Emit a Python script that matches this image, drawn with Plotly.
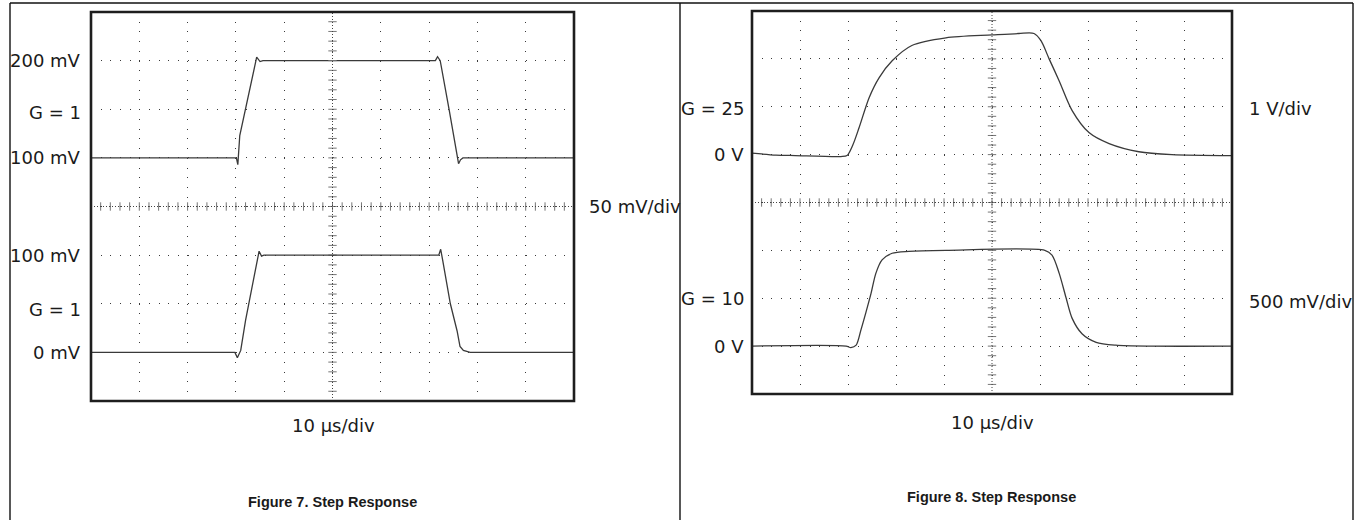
import numpy as np
import plotly.graph_objects as go

W, H = 1359, 520

# ---------------- data (time in µs, amplitude in channel units) ----------------
# Figure 7, upper channel (mV)
LT_t = [0, 30.1, 30.4, 30.8, 34.3, 35.0, 35.6, 71.3, 71.75, 72.3, 74.2, 76.1, 76.5, 77.0, 100]
LT_v = [100, 100, 93, 123, 203.5, 199, 200, 200, 204, 200, 148, 94, 98, 100, 100]
# Figure 7, lower channel (mV)
LB_t = [0, 29.8, 30.3, 31.0, 32.0, 34.8, 35.3, 35.8, 72.0, 72.4, 72.8, 74.4, 75.8, 76.4, 77.1, 78.5, 100]
LB_v = [0, 0, -5.5, 2, 33, 104, 99, 100, 100, 106, 95, 50, 22, 6, 2, 0, 0]
# Figure 8, upper channel (V)
RT_t = [0, 5, 9, 18.5, 19.8, 21.0, 22.3, 24.4, 26.5, 29.2, 33.3, 40.4, 50, 55.6, 58.75,
        60.2, 61.9, 64.0, 66.7, 70.2, 74.4, 80.6, 87.5, 100]
RT_v = [0.03, -0.01, -0.02, -0.04, -0.02, 0.2, 0.56, 1.19, 1.61, 1.96, 2.28, 2.44, 2.5, 2.53, 2.53,
        2.38, 2.0, 1.54, 0.92, 0.46, 0.23, 0.06, 0.0, -0.02]
# Figure 8, lower channel (V)
RB_t = [0, 19.6, 20.6, 21.7, 22.7, 23.75, 24.8, 25.8, 27.1, 29.2, 32.7, 40.4, 61.0, 62.5, 64.0,
        65.4, 66.7, 68.75, 71.7, 75.8, 83.3, 100]
RB_v = [0, 0, -0.015, 0.01, 0.17, 0.355, 0.55, 0.76, 0.9, 0.97, 0.99, 1.0, 1.0, 0.95, 0.76,
        0.51, 0.29, 0.13, 0.04, 0.01, 0, 0]

# labels
L_LEFT_LABELS = ["200 mV", "G = 1", "100 mV", "100 mV", "G = 1", "0 mV"]
L_LEFT_VALUES = [200, 147, 100, 100, 44, 0]
L_LEFT_AXES = ["y", "y", "y", "y2", "y2", "y2"]
R_LEFT_LABELS = ["G = 25", "0 V", "G = 10", "0 V"]
R_LEFT_VALUES = [0.97, 0, 0.5, 0]
R_LEFT_AXES = ["y3", "y3", "y4", "y4"]
SCALE_LABELS = ["50 mV/div", "1 V/div", "500 mV/div"]
TIME_LABEL = "10 µs/div"
CAPTIONS = ["Figure 7. Step Response", "Figure 8. Step Response"]

# ---------------- helpers ----------------
def px(x):
    return x / W

def py(y):
    return 1 - y / H

FONT = "DejaVu Sans, Liberation Sans, Arial, sans-serif"
CAPFONT = "Liberation Sans, Arial, Helvetica, sans-serif"
TXT = "#1a1a1a"
GRIDC = "#3a3a3a"
TRACEC = "#3a3a3a"

L_X = [91, 574]; L_Y = [12, 401]
R_X = [752, 1232]; R_Y = [11, 394]


def griddash(pix_per_div):
    gap = pix_per_div / 5 - 1
    try:
        go.layout.XAxis(griddash=f"1px,{gap:.2f}px")
        return f"1px,{gap:.2f}px"
    except Exception:
        return f"1px,{int(round(gap))}px"


fig = go.Figure()

# ---- traces
line_l = dict(color=TRACEC, width=1.3)
line_r = dict(color=TRACEC, width=1.3, shape="spline", smoothing=0.8)
fig.add_trace(go.Scatter(x=LT_t, y=LT_v, mode="lines", line=line_l, xaxis="x", yaxis="y"))
fig.add_trace(go.Scatter(x=LB_t, y=LB_v, mode="lines", line=line_l, xaxis="x", yaxis="y2"))
fig.add_trace(go.Scatter(x=RT_t, y=RT_v, mode="lines", line=line_r, xaxis="x2", yaxis="y3"))
fig.add_trace(go.Scatter(x=RB_t, y=RB_v, mode="lines", line=line_r, xaxis="x2", yaxis="y4"))

# ---- crosshair minor ticks (every 0.2 division)
tick_t = np.arange(0, 100.001, 2)
tickm = dict(color="#777", size=6, line=dict(color="#777", width=1))
fig.add_trace(go.Scatter(x=tick_t, y=[50] * len(tick_t), mode="markers", xaxis="x", yaxis="y",
                         marker=dict(symbol="line-ns", **tickm)))
lv = np.arange(-150, 250.001, 10)
fig.add_trace(go.Scatter(x=[50] * len(lv), y=lv, mode="markers", xaxis="x", yaxis="y",
                         marker=dict(symbol="line-ew", **tickm)))
fig.add_trace(go.Scatter(x=tick_t, y=[-1] * len(tick_t), mode="markers", xaxis="x2", yaxis="y3",
                         marker=dict(symbol="line-ns", **tickm)))
rv = np.arange(-5, 3.001, 0.2)
fig.add_trace(go.Scatter(x=[50] * len(rv), y=rv, mode="markers", xaxis="x2", yaxis="y3",
                         marker=dict(symbol="line-ew", **tickm)))

common = dict(showticklabels=False, ticks="", zeroline=False, showline=False, fixedrange=True)

lxdiv = (L_X[1] - L_X[0]) / 10
lydiv = (L_Y[1] - L_Y[0]) / 8
rxdiv = (R_X[1] - R_X[0]) / 10
rydiv = (R_Y[1] - R_Y[0]) / 8

fig.update_layout(
    width=W, height=H,
    margin=dict(l=0, r=0, t=0, b=0),
    paper_bgcolor="white", plot_bgcolor="white",
    showlegend=False, hovermode=False,
    xaxis=dict(domain=[px(L_X[0]), px(L_X[1])], range=[0, 100], anchor="y",
               tickvals=list(range(0, 101, 10)), showgrid=True, gridcolor=GRIDC, gridwidth=1,
               griddash=griddash(lydiv), **common),
    yaxis=dict(domain=[py(L_Y[1]), py(L_Y[0])], range=[-150, 250], anchor="x",
               tickvals=list(range(-150, 251, 50)), showgrid=True, gridcolor=GRIDC, gridwidth=1,
               griddash=griddash(lxdiv), **common),
    yaxis2=dict(overlaying="y", range=[-50, 350], anchor="x", showgrid=False, **common),
    xaxis2=dict(domain=[px(R_X[0]), px(R_X[1])], range=[0, 100], anchor="y3",
                tickvals=list(range(0, 101, 10)), showgrid=True, gridcolor=GRIDC, gridwidth=1,
                griddash=griddash(rydiv), **common),
    yaxis3=dict(domain=[py(R_Y[1]), py(R_Y[0])], range=[-5, 3], anchor="x2",
                tickvals=list(range(-5, 4)), showgrid=True, gridcolor=GRIDC, gridwidth=1,
                griddash=griddash(rxdiv), **common),
    yaxis4=dict(overlaying="y3", range=[-0.5, 3.5], anchor="x2", showgrid=False, **common),
)

shapes = []
for xr, yr, yc in [("x", "y", 50), ("x2", "y3", -1)]:
    shapes.append(dict(type="line", xref=xr, yref=yr, x0=0, x1=100, y0=yc, y1=yc,
                       line=dict(color="#444", width=1, dash="1px,2px"), layer="above"))
    shapes.append(dict(type="line", xref=xr, yref=f"{yr} domain", x0=50, x1=50, y0=0, y1=1,
                       line=dict(color="#444", width=1, dash="1px,2px"), layer="above"))
for xr, yr in [("x", "y"), ("x2", "y3")]:
    shapes.append(dict(type="rect", xref=f"{xr} domain", yref=f"{yr} domain", x0=0, x1=1, y0=0, y1=1,
                       line=dict(color="#1e1e1e", width=2.6), layer="above"))
frame = dict(color="#111", width=1.4)
shapes.append(dict(type="line", xref="paper", yref="paper", x0=px(10), x1=px(1353), y0=py(3), y1=py(3), line=frame))
shapes.append(dict(type="line", xref="paper", yref="paper", x0=px(10), x1=px(10), y0=py(3), y1=0, line=frame))
shapes.append(dict(type="line", xref="paper", yref="paper", x0=px(680), x1=px(680), y0=py(3), y1=0, line=frame))
shapes.append(dict(type="line", xref="paper", yref="paper", x0=px(1353), x1=px(1353), y0=py(3), y1=0, line=frame))
fig.update_layout(shapes=shapes)

ann = []
f = dict(family=FONT, size=18, color=TXT)
for lab, v, ax in zip(L_LEFT_LABELS, L_LEFT_VALUES, L_LEFT_AXES):
    ann.append(dict(text=lab, x=px(83), xref="paper", y=v, yref=ax, xanchor="right",
                    yanchor="middle", showarrow=False, font=f))
for lab, v, ax in zip(R_LEFT_LABELS, R_LEFT_VALUES, R_LEFT_AXES):
    ann.append(dict(text=lab, x=px(746), xref="paper", y=v, yref=ax, xanchor="right",
                    yanchor="middle", showarrow=False, font=f))
ann.append(dict(text=SCALE_LABELS[0], x=px(587), xref="paper", y=50, yref="y", xanchor="left",
                yanchor="middle", showarrow=False, font=f))
ann.append(dict(text=SCALE_LABELS[1], x=px(1247), xref="paper", y=0.97, yref="y3", xanchor="left",
                yanchor="middle", showarrow=False, font=f))
ann.append(dict(text=SCALE_LABELS[2], x=px(1247), xref="paper", y=0.47, yref="y4", xanchor="left",
                yanchor="middle", showarrow=False, font=f))
for cx, ty in [(333, 425), (992, 422)]:
    ann.append(dict(text=TIME_LABEL, x=px(cx), xref="paper", y=py(ty), yref="paper",
                    xanchor="center", yanchor="middle", showarrow=False, font=f))
for cap, (cx, cy) in zip(CAPTIONS, [(332, 502), (991, 497)]):
    ann.append(dict(text=f"<b>{cap}</b>", x=px(cx), xref="paper", y=py(cy), yref="paper",
                    xanchor="center", yanchor="middle", showarrow=False,
                    font=dict(family=CAPFONT, size=14.5, color=TXT)))
fig.update_layout(annotations=ann)

fig.write_html("out.html")
